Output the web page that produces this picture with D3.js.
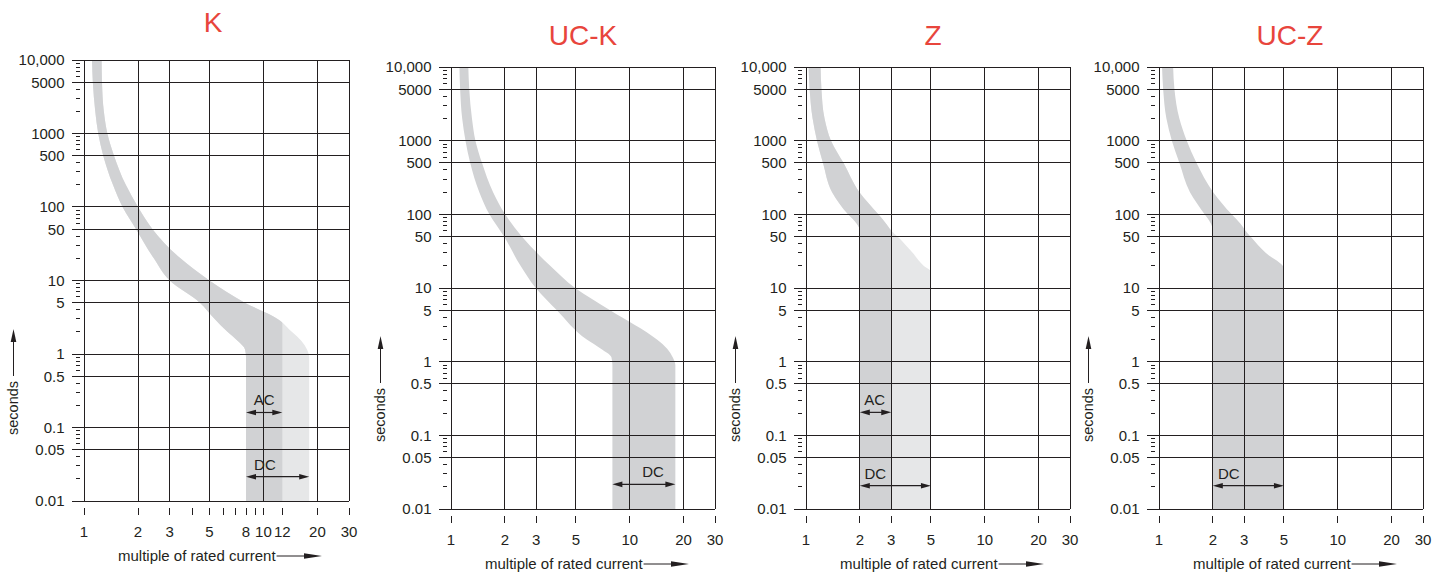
<!DOCTYPE html>
<html>
<head>
<meta charset="utf-8">
<script src="https://cdn.jsdelivr.net/npm/d3@7"></script>
<style>
	body { margin: 0; background: #fff; }
	text { font-family: "Liberation Sans", Arial, Helvetica, sans-serif; fill: #231f20; }
</style>
</head>
<body>
<svg id="chart" width="1441" height="573"></svg>
<script>
// trip bands, one row per time: [seconds, lower multiple, upper multiple]
var band_k = [
	[10000, 1.108, 1.254],
	[5000, 1.12, 1.26],
	[2000, 1.155, 1.29],
	[1000, 1.20, 1.35],
	[500, 1.28, 1.47],
	[200, 1.45, 1.71],
	[100, 1.64, 2.0],
	[50, 1.95, 2.41],
	[20, 2.45, 3.45],
	[10, 3.0, 5.0],
	[5, 4.42, 7.87],
	[3, 5.35, 12.0],
	[2, 6.3, 14.4],
	[1.5, 7.2, 16.3],
	[1.15, 7.9, 17.5],
	[0.9, 8.0, 18.0],
	[0.01, 8.0, 18.0]
];

var band_uck = [
	[10000, 1.115, 1.25],
	[5000, 1.125, 1.265],
	[2000, 1.155, 1.31],
	[1000, 1.205, 1.37],
	[500, 1.28, 1.49],
	[200, 1.44, 1.72],
	[100, 1.64, 2.01],
	[50, 1.98, 2.49],
	[20, 2.45, 3.59],
	[10, 2.98, 4.95],
	[5, 3.91, 7.77],
	[2, 5.75, 14.2],
	[1.5, 6.9, 16.2],
	[1.15, 7.9, 17.4],
	[0.9, 8.0, 18.0],
	[0.01, 8.0, 18.0]
];

var band_z = [
	[10000, 1.034, 1.207],
	[5000, 1.048, 1.22],
	[2000, 1.089, 1.27],
	[1000, 1.152, 1.38],
	[500, 1.244, 1.62],
	[200, 1.40, 1.99],
	[100, 1.72, 2.54],
	[75, 1.92, 2.8],
	[60, 2.0, 3.0],
	[50, 2.0, 3.25],
	[30, 2.0, 3.95],
	[20, 2.0, 4.55],
	[16.5, 2.0, 5.0],
	[0.01, 2.0, 5.0]
];

var band_ucz = [
	[10000, 1.04, 1.20],
	[5000, 1.055, 1.22],
	[2000, 1.10, 1.30],
	[1000, 1.18, 1.43],
	[500, 1.30, 1.62],
	[200, 1.49, 2.01],
	[100, 1.80, 2.55],
	[75, 1.95, 2.85],
	[60, 2.0, 3.05],
	[50, 2.0, 3.25],
	[30, 2.0, 3.95],
	[18.4, 2.0, 5.0],
	[0.01, 2.0, 5.0]
];

var titles = ['K', 'UC-K', 'Z', 'UC-Z'];

// where the darker (AC) part of the band stops; null = whole band dark
var ac_limits = [12.75, null, 3, null];

// the "12" tick sits a little right of 12 on the printed scale
var x_ticks_k = [1, 2, 3, 4, 5, 6, 7, 8, 9, 10, 12.75, 20, 30];
var x_labels_k = [['1', 1], ['2', 2], ['3', 3], ['5', 5], ['8', 8], ['10', 10], ['12', 12.75], ['20', 20], ['30', 30]];
var x_ticks = [1, 2, 3, 5, 10, 20, 30];
var x_labels = [['1', 1], ['2', 2], ['3', 3], ['5', 5], ['10', 10], ['20', 20], ['30', 30]];
var x_grid = [2, 3, 5, 10, 20];

var y_major = [10000, 5000, 1000, 500, 100, 50, 10, 5, 1, 0.5, 0.1, 0.05, 0.01];
var y_labels = ['10,000', '5000', '1000', '500', '100', '50', '10', '5', '1', '0.5', '0.1', '0.05', '0.01'];
var y_decades = [0.01, 0.1, 1, 10, 100, 1000];
var y_minor_steps = [2, 3, 4, 6, 7, 8, 9];

// range arrows: name, from, to, seconds, label position
var arrows_k = [['AC', 8, 12.75, 0.16, 10.1], ['DC', 8, 18, 0.0214, 10.2]];
var arrows_uck = [['DC', 8, 18, 0.0216, 13.5]];
var arrows_z = [['AC', 2, 3, 0.205, 2.42], ['DC', 2, 5, 0.0207, 2.44]];
var arrows_ucz = [['DC', 2, 5, 0.0207, 2.46]];

var bands = [band_k, band_uck, band_z, band_ucz];
var arrows = [arrows_k, arrows_uck, arrows_z, arrows_ucz];

var layout = [
	{ left: 84, top: 60, width: 265, height: 441, title_x: 213, title_y: 32 },
	{ left: 451, top: 67, width: 264, height: 442, title_x: 583, title_y: 45 },
	{ left: 806, top: 67, width: 264, height: 442, title_x: 933, title_y: 45 },
	{ left: 1159, top: 67, width: 264, height: 442, title_x: 1290, title_y: 45 }
];

var INK = '#231f20';
var DARK = '#d1d2d4';
var LIGHT = '#e6e7e8';
var FS = 15;

var svg = d3.select('#chart');

function crisp(v)
{
	return Math.round(v - 0.5) + 0.5;
}

function head(g, tx, ty, dx, dy, len, half)
{
	var bx = tx - dx * len, by = ty - dy * len;
	var px = -dy * half, py = dx * half;
	g.append('path')
		.attr('d', 'M' + tx + ',' + ty + 'L' + (bx + px) + ',' + (by + py) + 'L' + (bx - px) + ',' + (by - py) + 'Z')
		.attr('fill', INK);
}

function draw_panel(i)
{
	var L = layout[i];
	var bottom = L.top + L.height;
	var right = L.left + L.width;
	var g = svg.append('g').attr('id', 'panel' + i);

	var x = d3.scaleLog().domain([1, 30]).range([L.left, right]);
	var y = d3.scaleLog().domain([0.01, 10000]).range([bottom, L.top]);

	var defs = g.append('defs');
	defs.append('clipPath').attr('id', 'plot' + i)
		.append('rect').attr('x', L.left).attr('y', L.top).attr('width', L.width).attr('height', L.height);

	var area = d3.area()
		.curve(d3.curveMonotoneY)
		.y(function(d) { return y(d[0]); })
		.x0(function(d) { return x(d[1]); })
		.x1(function(d) { return x(d[2]); });

	var lim = ac_limits[i];

	g.append('path')
		.attr('d', area(bands[i]))
		.attr('fill', lim == null ? DARK : LIGHT)
		.attr('clip-path', 'url(#plot' + i + ')');

	if(lim != null)
	{
		defs.append('clipPath').attr('id', 'ac' + i)
			.append('rect').attr('x', L.left).attr('y', L.top).attr('width', x(lim) - L.left).attr('height', L.height);
		g.append('path')
			.attr('d', area(bands[i]))
			.attr('fill', DARK)
			.attr('clip-path', 'url(#ac' + i + ')');
	}

	// grid
	var grid = g.append('g').attr('stroke', INK).attr('stroke-width', 1);
	grid.selectAll('line.h').data(y_major).enter().append('line')
		.attr('x1', L.left).attr('x2', right)
		.attr('y1', function(d) { return crisp(y(d)); })
		.attr('y2', function(d) { return crisp(y(d)); });
	grid.selectAll('line.v').data([1].concat(x_grid, [30])).enter().append('line')
		.attr('y1', L.top).attr('y2', bottom)
		.attr('x1', function(d) { return crisp(x(d)); })
		.attr('x2', function(d) { return crisp(x(d)); });

	// y axis ticks
	var minor = [];
	for(var d of y_decades)
		for(var m of y_minor_steps)
			minor.push(d * m);

	grid.selectAll('line.ymaj').data(y_major).enter().append('line')
		.attr('x1', L.left - 12).attr('x2', L.left)
		.attr('y1', function(d) { return crisp(y(d)); })
		.attr('y2', function(d) { return crisp(y(d)); });
	grid.selectAll('line.ymin').data(minor).enter().append('line')
		.attr('x1', L.left - 8).attr('x2', L.left - 4)
		.attr('y1', function(d) { return crisp(y(d)); })
		.attr('y2', function(d) { return crisp(y(d)); });

	g.selectAll('text.ylab').data(y_major).enter().append('text')
		.attr('x', L.left - 19.5)
		.attr('y', function(d) { return y(d); })
		.attr('dy', '0.36em')
		.attr('text-anchor', 'end')
		.attr('font-size', FS)
		.text(function(d, k) { return y_labels[k]; });

	// x axis ticks
	var ticks = i == 0 ? x_ticks_k : x_ticks;
	var labels = i == 0 ? x_labels_k : x_labels;
	grid.selectAll('line.xt').data(ticks).enter().append('line')
		.attr('y1', bottom + 7).attr('y2', bottom + 14)
		.attr('x1', function(d) { return crisp(x(d)); })
		.attr('x2', function(d) { return crisp(x(d)); });
	g.selectAll('text.xlab').data(labels).enter().append('text')
		.attr('x', function(d) { return x(d[1]); })
		.attr('y', bottom + 35.5)
		.attr('text-anchor', 'middle')
		.attr('font-size', FS)
		.text(function(d) { return d[0]; });

	// axis titles
	var xt = g.append('text')
		.attr('x', L.left + 34)
		.attr('y', bottom + 59.5)
		.attr('font-size', FS)
		.text('multiple of rated current');
	var xt_end = L.left + 34 + xt.node().getComputedTextLength();
	g.append('line')
		.attr('x1', xt_end + 1).attr('x2', L.left + 228)
		.attr('y1', bottom + 55).attr('y2', bottom + 55)
		.attr('stroke', INK).attr('stroke-width', 1);
	head(g, L.left + 238, bottom + 55, 1, 0, 18, 2.8);

	var yt = g.append('text')
		.attr('transform', 'translate(' + (L.left - 66) + ',' + (L.top + 375) + ') rotate(-90)')
		.attr('font-size', 14.5)
		.text('seconds');
	var yt_end = L.top + 375 - yt.node().getComputedTextLength();
	g.append('line')
		.attr('x1', L.left - 70.5).attr('x2', L.left - 70.5)
		.attr('y1', yt_end - 5).attr('y2', L.top + 279)
		.attr('stroke', INK).attr('stroke-width', 1);
	head(g, L.left - 70.5, L.top + 269, 0, -1, 13, 2.8);

	// AC / DC ranges
	for(var a of arrows[i])
	{
		var ay = y(a[3]);
		g.append('line')
			.attr('x1', x(a[1]) + 4).attr('x2', x(a[2]) - 4)
			.attr('y1', ay).attr('y2', ay)
			.attr('stroke', INK).attr('stroke-width', 1.2);
		head(g, x(a[1]), ay, -1, 0, 10, 2.8);
		head(g, x(a[2]), ay, 1, 0, 10, 2.8);
		g.append('text')
			.attr('x', x(a[4]))
			.attr('y', ay - 7)
			.attr('text-anchor', 'middle')
			.attr('font-size', FS)
			.text(a[0]);
	}

	// title
	g.append('text')
		.attr('x', L.title_x)
		.attr('y', L.title_y)
		.attr('text-anchor', 'middle')
		.attr('font-size', 28)
		.style('fill', '#e8453c')
		.text(titles[i]);
}

for(var i = 0; i < titles.length; i++)
	draw_panel(i);
</script>
</body>
</html>
